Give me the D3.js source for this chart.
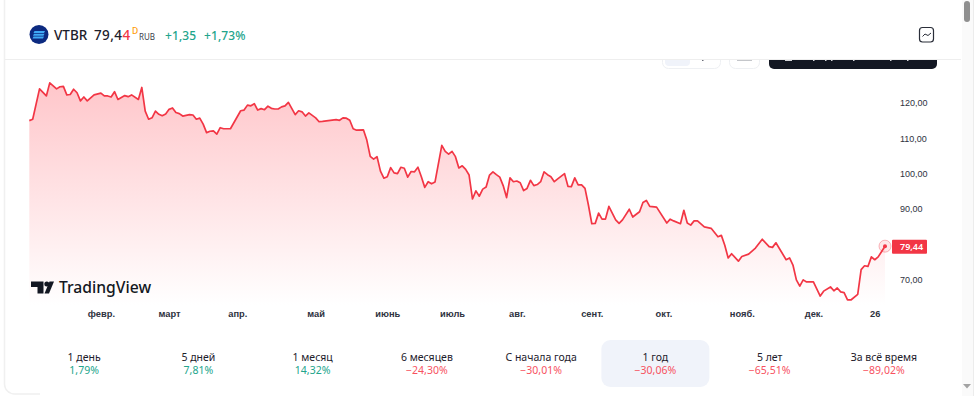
<!DOCTYPE html>
<meta charset="utf-8">
<style>
  html, body { margin: 0; background: white; overflow: hidden; }
  svg { display: block; font-family: "Noto Sans", sans-serif; }
  .domain, .tick line { display: none; }
  .xaxis text { font-size: 9.3px; font-weight: 600; fill: #2e3240; }
  .yaxis text { font-size: 9px; fill: #2e3240; }
</style>
<body>
</body>
<script src="https://cdn.jsdelivr.net/npm/d3@7"></script>
<script>
  const sessions = [0,1,3,5,6,8,9,10,11,12,13,14,15,16,17,19,21,22,23,24,25,26,28,29,30,32,33,34,35,36,37,38,39,40,41,42,43,44,45,47,48,49,50,51,52,53,54,55,56,57,59,
    62,63,64,65,66,67,68,69,70,71,72,73,74,75,76,78,79,80,81,82,84,85,86,90,91,92,93,94,95,96,98,99,100,101,102,103,104,105,106,107,108,109,110,111,112,113,114,115,116,117,118,119,
    121,122,123,124,125,126,127,128,129,130,131,132,133,134,135,136,137,138,139,140,141,142,143,144,145,146,147,148,149,150,151,152,153,154,155,157,158,159,160,161,162,163,164,165,166,167,168,169,170,172,173,174,176,177,179,180,181,182,184,187,188,189,191,192,193,194,195,196,198,200,202,203,204,205,206,208,209,211,213,215,217,218,219,
    222,223,224,225,226,227,228,230,232,233,235,236,237,238,239,240,241,243,244,245,246,247,248,249,251];
  const closes = [115.0,115.4,124.0,122.0,125.7,124.0,124.6,124.7,122.3,122.4,123.9,122.9,120.6,121.7,120.6,122.3,122.8,122.0,122.0,121.7,123.2,121.0,122.1,121.8,122.3,121.0,124.4,117.7,115.4,115.8,117.7,116.8,116.4,116.9,118.2,118.6,117.3,117.0,116.3,116.7,116.6,115.4,115.7,114.0,111.6,112.0,112.1,111.2,113.0,112.7,112.7,
    117.8,118.0,119.4,119.2,119.8,118.0,118.4,118.1,119.1,118.5,118.3,118.3,118.9,119.2,120.2,116.7,117.8,117.5,116.3,117.2,115.8,114.7,114.8,115.3,115.1,115.8,115.7,115.1,112.7,112.3,112.4,109.5,104.9,104.1,104.8,100.7,98.7,99.1,101.7,100.2,100.0,101.8,101.5,99.0,100.6,100.5,101.8,99.1,96.1,97.7,97.1,97.6,
    108.0,106.3,105.5,106.3,104.8,101.6,102.2,101.2,99.6,92.8,95.1,93.6,95.6,96.2,99.6,100.5,99.7,99.0,96.6,93.2,98.8,97.7,97.9,97.4,95.2,95.8,98.1,96.6,96.9,97.7,100.5,99.7,99.1,97.7,98.5,100.0,96.4,96.3,98.8,96.8,96.8,95.8,91.1,85.8,85.9,88.8,87.1,87.1,90.7,86.9,85.9,86.9,89.9,87.7,89.2,91.8,92.4,90.7,90.5,86.0,87.1,86.6,85.8,89.6,86.0,85.4,86.6,86.6,84.9,84.5,82.1,82.5,79.7,76.1,77.3,75.2,76.5,77.2,78.9,81.4,79.3,79.1,80.4,
    75.6,76.1,74.1,69.9,68.1,69.9,69.3,69.3,65.3,66.7,67.9,66.8,67.6,66.5,66.3,64.2,64.2,65.8,72.8,73.9,73.7,76.4,75.6,76.4,79.44];
  const priceTicks = [120, 110, 100, 90, 70];
  const monthSessions = [21, 41, 61, 84, 105, 124, 143, 165, 186, 209, 230, 248];
  const monthLabels = ['февр.', 'март', 'апр.', 'май', 'июнь', 'июль', 'авг.', 'сент.', 'окт.', 'нояб.', 'дек.', '26'];
  const periodLabels = ['1 день', '5 дней', '1 месяц', '6 месяцев', 'С начала года', '1 год', '5 лет', 'За всё время'];
  const periodChanges = ['1,79%', '7,81%', '14,32%', '−24,30%', '−30,01%', '−30,06%', '−65,51%', '−89,02%'];
  const activePeriod = '1 год';
  const lastPrice = 79.44;

  const green = '#22a58c', red = '#f23645', ink = '#1d202b';
  const fmt = v => v.toFixed(2).replace('.', ',');

  const w = 978, h = 396;
  const svg = d3.select('body').append('svg').attr('width', w).attr('height', h);

  const xAxis = d3.scaleLinear().domain([0, 251]).range([29.3, 885]);
  const yAxis = d3.scaleLinear().domain([120, 70]).range([103, 279.5]);
  const plotBottom = 305;

  // page frame and scrollbar
  svg.append('path').attr('d', 'M4.5 0V384a10 10 0 0 0 10 10H40').attr('fill', 'none').attr('stroke', '#f0f0f0').attr('stroke-width', 1.5);
  svg.append('rect').attr('x', 962).attr('y', 0).attr('width', 11).attr('height', h).attr('fill', '#fafafa');
  svg.append('line').attr('x1', 973.5).attr('x2', 973.5).attr('y1', 0).attr('y2', h).attr('stroke', '#ececec');
  svg.append('rect').attr('x', 964).attr('y', 1).attr('width', 6).attr('height', 21).attr('rx', 3).attr('fill', '#8f8f8f');
  svg.append('path').attr('d', 'M963 384h8l-4 4.5z').attr('fill', '#a3a3a3');

  // controls cut off by the header
  svg.append('rect').attr('x', 662.5).attr('y', 50).attr('width', 58).attr('height', 18.5).attr('rx', 6).attr('fill', 'white').attr('stroke', '#eef0f3');
  svg.append('rect').attr('x', 665).attr('y', 52).attr('width', 25).attr('height', 14).attr('rx', 4).attr('fill', '#f0f3fa');
  svg.append('rect').attr('x', 702).attr('y', 56).attr('width', 1.5).attr('height', 5).attr('fill', '#6a6d78');
  svg.append('rect').attr('x', 729.5).attr('y', 50).attr('width', 30).attr('height', 18.5).attr('rx', 6).attr('fill', 'white').attr('stroke', '#eef0f3');
  svg.append('rect').attr('x', 737).attr('y', 57).attr('width', 15).attr('height', 3.5).attr('fill', '#8a8d96');
  svg.append('rect').attr('x', 769).attr('y', 48).attr('width', 168).attr('height', 21).attr('rx', 5).attr('fill', '#131722');
  svg.append('path').attr('d', 'M785 59h7v2h-7z M813 59h1.5v2h-1.5z M825 59h1.5v2h-1.5z M831 59h1.5v2h-1.5z M853 59h1.5v2h-1.5z M890 59h1.5v2h-1.5z M907 59h1.5v2h-1.5z').attr('fill', '#d5d6da');
  svg.append('rect').attr('x', 6).attr('y', 0).attr('width', 954).attr('height', 59).attr('fill', 'white');
  svg.append('line').attr('x1', 5).attr('x2', 961).attr('y1', 59.5).attr('y2', 59.5).attr('stroke', '#eeeeee');

  // header
  const head = svg.append('g');
  head.append('circle').attr('cx', 39).attr('cy', 34.5).attr('r', 9.5).attr('fill', '#0c2a80');
  head.append('g').selectAll('path').data([0, 1, 2]).join('path')
    .attr('d', d => `M${34.5 - d * 0.5} ${31 + d * 2.7}h10.5l-1 2h-10.5z`).attr('fill', '#3fa9f5');
  head.append('text').attr('x', 54).attr('y', 39.5).attr('font-size', 13.5).attr('font-weight', 500).attr('fill', ink).text('VTBR');
  const priceText = head.append('text').attr('x', 94).attr('y', 39.5).attr('font-size', 13.5).attr('font-weight', 500).attr('letter-spacing', 0.4).attr('fill', ink);
  priceText.append('tspan').text('79,4');
  priceText.append('tspan').attr('fill', red).text('4');
  head.append('text').attr('x', 132).attr('y', 34).attr('font-size', 8.5).attr('font-weight', 500).attr('fill', '#ff9800').text('D');
  head.append('text').attr('x', 139).attr('y', 39.5).attr('font-size', 8).attr('fill', '#3a3e4a').text('RUB');
  head.append('text').attr('x', 165).attr('y', 39.5).attr('font-size', 12).attr('font-weight', 500).attr('letter-spacing', 0.1).attr('fill', green).text('+1,35');
  head.append('text').attr('x', 204).attr('y', 39.5).attr('font-size', 12).attr('font-weight', 500).attr('letter-spacing', 0.1).attr('fill', green).text('+1,73%');
  head.append('rect').attr('x', 919.5).attr('y', 27.5).attr('width', 14).attr('height', 14.5).attr('rx', 3).attr('fill', 'none').attr('stroke', '#2a2e39').attr('stroke-width', 1.2);
  head.append('path').attr('d', 'M922.5 36.5l2.5-2.5 3 1.5 3-2.5').attr('fill', 'none').attr('stroke', '#2a2e39');

  // area and line
  const defs = svg.append('defs');
  const grad = defs.append('linearGradient').attr('id', 'fade').attr('x1', 0).attr('x2', 0).attr('y1', 0).attr('y2', 1);
  grad.append('stop').attr('offset', 0).attr('stop-color', '#ffc6ca');
  grad.append('stop').attr('offset', 1).attr('stop-color', '#ffffff');

  const series = sessions.map((s, i) => ({s, c: closes[i]}));
  const area = d3.area().x(d => xAxis(d.s)).y0(plotBottom).y1(d => yAxis(d.c));
  const line = d3.line().x(d => xAxis(d.s)).y(d => yAxis(d.c));
  svg.append('path').datum(series).attr('d', area).attr('fill', 'url(#fade)');
  svg.append('path').datum(series).attr('d', line).attr('fill', 'none').attr('stroke', red).attr('stroke-width', 1.7).attr('stroke-linejoin', 'round');

  // last value marker
  const lx = xAxis(251), ly = yAxis(lastPrice);
  svg.append('circle').attr('cx', lx).attr('cy', ly).attr('r', 6).attr('fill', red).attr('fill-opacity', 0.12).attr('stroke', red).attr('stroke-opacity', 0.35);
  svg.append('circle').attr('cx', lx).attr('cy', ly).attr('r', 2).attr('fill', red);

  // axes
  svg.append('g').attr('class', 'yaxis').attr('transform', 'translate(894, 0)')
    .call(d3.axisRight(yAxis).tickValues(priceTicks).tickSize(0).tickPadding(6).tickFormat(fmt));
  svg.append('g').attr('class', 'xaxis').attr('transform', 'translate(0, 307)')
    .call(d3.axisBottom(xAxis).tickValues(monthSessions).tickSize(0).tickPadding(3).tickFormat((d, i) => monthLabels[i]));

  svg.append('rect').attr('x', 892).attr('y', ly - 6.5).attr('width', 35).attr('height', 14).attr('rx', 1).attr('fill', red);
  svg.append('text').attr('x', 900).attr('y', ly + 3.8).attr('font-size', 9).attr('font-weight', 600).attr('fill', 'white').text(fmt(lastPrice));

  // watermark
  const logo = svg.append('g').attr('fill', '#131722');
  logo.append('path').attr('d', 'M31 281.5h12.5v12h-6v-6.5H31z');
  logo.append('circle').attr('cx', 46.8).attr('cy', 284).attr('r', 2.5);
  logo.append('path').attr('d', 'M44.5 293.5L49.5 281.5h4.5l-5 12z');
  svg.append('text').attr('x', 59).attr('y', 293).attr('font-size', 15.7).attr('font-weight', 500).attr('fill', '#131722').text('TradingView');

  // performance tabs
  const band = d3.scaleBand().domain(periodLabels).range([27, 941]);
  svg.append('rect').attr('x', band(activePeriod) + band.bandwidth() / 2 - 54).attr('y', 340).attr('width', 108).attr('height', 47).attr('rx', 9).attr('fill', '#f0f3fa');
  const tabs = svg.append('g').attr('text-anchor', 'middle').selectAll('g').data(periodLabels).join('g')
    .attr('transform', d => `translate(${band(d) + band.bandwidth() / 2}, 0)`);
  tabs.append('text').attr('y', 361).attr('font-size', 10.5).attr('fill', ink).text(d => d);
  tabs.append('text').attr('y', 374).attr('font-size', 10.5).attr('fill', (d, i) => periodChanges[i].startsWith('−') ? '#f7525f' : green).text((d, i) => periodChanges[i]);
</script>
